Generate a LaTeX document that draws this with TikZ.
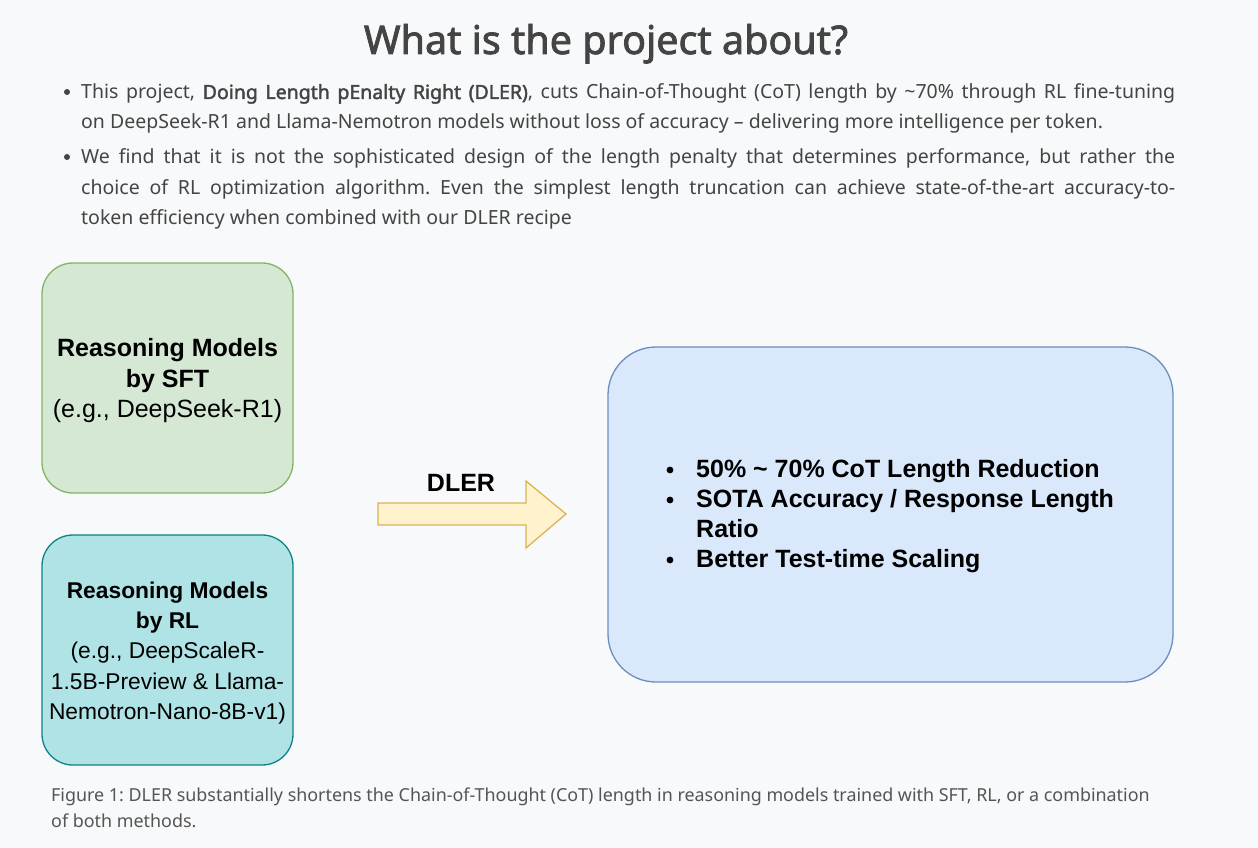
\documentclass[tikz,border=0pt]{standalone}
\usepackage{fontspec}
\setmainfont{Noto Sans}[AutoFakeBold=2]
\newfontfamily\arialf{Liberation Sans}
\frenchspacing
\definecolor{bgc}{HTML}{F8F9FA}
\definecolor{txt}{HTML}{444444}
\definecolor{cap}{HTML}{555555}
\definecolor{gfill}{HTML}{D5E8D4}
\definecolor{gline}{HTML}{82B366}
\definecolor{tfill}{HTML}{B0E3E6}
\definecolor{tline}{HTML}{0E8088}
\definecolor{bfill}{HTML}{DAE8FC}
\definecolor{bline}{HTML}{6C8EBF}
\definecolor{yfill}{HTML}{FFF2CC}
\definecolor{yline}{HTML}{D6B656}
\tikzset{
  body/.style={anchor=base west, inner sep=0pt, text=txt, font=\fontsize{19.5}{30}\selectfont},
  captxt/.style={anchor=base west, inner sep=0pt, text=cap, font=\fontsize{17.9}{26}\selectfont},
  modelbox/.style={draw, line width=1.3pt, rounded corners=31pt, inner sep=0pt},
  boxtext/.style={align=center, text=black, font=\arialf\fontsize{25}{30.5}\selectfont},
  boxtextsmall/.style={align=center, text=black, font=\arialf\fontsize{22.8}{30.25}\selectfont},
  listtext/.style={anchor=base west, inner sep=0pt, text=black, font=\arialf\bfseries\fontsize{25}{30}\selectfont},
}
\newcommand{\jline}[1]{\makebox[1094pt][s]{#1}}
\begin{document}
\begin{tikzpicture}[x=1pt,y=-1pt]
\fill[bgc] (0,0) rectangle (1258,848);
\useasboundingbox (0,0) rectangle (1258,848);

% title
\node[anchor=base, inner sep=0pt, text=txt, font=\bfseries\fontsize{39.5}{44}\selectfont] (title) at (606,54) {What is the project about?};

% bullets
\fill[txt] (67,92) circle (3pt);
\node[body] (b1a) at (81,99) {\jline{This project, \textbf{Doing Length pEnalty Right (DLER)}, cuts Chain-of-Thought (CoT) length by \textasciitilde 70\% through RL fine-tuning}};
\node[body] (b1b) at (81,129) {on DeepSeek-R1 and Llama-Nemotron models without loss of accuracy -- delivering more intelligence per token.};
\fill[txt] (67,157) circle (3pt);
\node[body] (b2a) at (81,164) {\jline{We find that it is not the sophisticated design of the length penalty that determines performance, but rather the}};
\node[body] (b2b) at (81,194) {\jline{choice of RL optimization algorithm. Even the simplest length truncation can achieve state-of-the-art accuracy-to-}};
\node[body] (b2c) at (81,224) {token efficiency when combined with our DLER recipe};

% boxes
\draw[modelbox, draw=gline, fill=gfill] (42,263) rectangle (293,493);
\node[boxtext] (sft) at (167.5,381) {\textbf{Reasoning Models}\\\textbf{by SFT}\\(e.g., DeepSeek-R1)};
\draw[modelbox, draw=tline, fill=tfill] (42,535) rectangle (293,765);
\node[boxtextsmall] (rl) at (167.5,653) {\textbf{Reasoning Models}\\\textbf{by RL}\\(e.g., DeepScaleR-\\1.5B-Preview \& Llama-\\Nemotron-Nano-8B-v1)};

% arrow
\draw[line width=1.3pt, draw=yline, fill=yfill, line join=miter]
  (378,503) -- (526,503) -- (526,481) -- (566,514) -- (526,548) -- (526,525) -- (378,525) -- cycle;
\node[anchor=base, inner sep=0pt, font=\arialf\bfseries\fontsize{25}{30}\selectfont] (dler) at (461,491) {DLER};

% result box
\draw[modelbox, rounded corners=48pt, draw=bline, fill=bfill] (608,347) rectangle (1173,682);
\fill[black] (670,470) circle (3.4pt);
\node[listtext] (r1) at (696,477) {50\% \textasciitilde\ 70\% CoT Length Reduction};
\fill[black] (670,500) circle (3.4pt);
\node[listtext] (r2) at (696,507) {SOTA Accuracy / Response Length};
\node[listtext] (r3) at (696,537) {Ratio};
\fill[black] (670,560) circle (3.4pt);
\node[listtext] (r4) at (696,567) {Better Test-time Scaling};

% caption
\node[captxt] (c1) at (51,801) {Figure 1: DLER substantially shortens the Chain-of-Thought (CoT) length in reasoning models trained with SFT, RL, or a combination};
\node[captxt] (c2) at (51,827) {of both methods.};
\end{tikzpicture}
\end{document}
